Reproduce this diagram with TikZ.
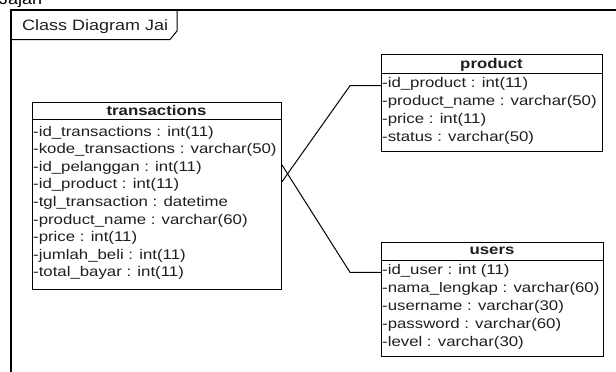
\documentclass[tikz,border=0pt]{standalone}
\usepackage{fontspec}
\setmainfont{Liberation Sans}[FakeStretch=1.2]
\begin{document}
\begin{tikzpicture}[x=1pt, y=-1pt,
  frameline/.style={line width=2pt},
  classbox/.style={draw, line width=1pt, inner sep=0pt, anchor=north west},
  rowtext/.style={anchor=base west, inner sep=0pt, font=\fontsize{14}{16}\selectfont, text=black!88},
  headtext/.style={anchor=base, inner sep=0pt, font=\fontsize{14}{16}\selectfont\bfseries, text=black!88},
  link/.style={line width=1pt}]
\useasboundingbox (0,0) rectangle (616,372);
\clip (0,0) rectangle (616,372);

% caption cut by the top edge
\node[anchor=base west, inner sep=0pt, font=\fontsize{15}{17}\selectfont] (cap) at (-1,5) {Jajan};

% diagram frame with its name tab
\draw[frameline] (11,380) -- (11,10) -- (620,10);
\draw[line width=1pt] (11,39.5) -- (170,39.5) -- (177,31) -- (177,10);
\node[anchor=base west, inner sep=0pt, font=\fontsize{15}{17}\selectfont, text=black!88] (title) at (22,30) {Class Diagram Jai};

% transactions
\node[classbox, minimum width=249, minimum height=187] (trans) at (32,102) {};
\draw[line width=1pt] ([yshift=-17pt]trans.north west) -- ([yshift=-17pt]trans.north east);
\node[headtext] (trans-h) at (156.5,115) {transactions};
\foreach \t [count=\i] in {-id\_transactions : int(11), -kode\_transactions : varchar(50),
  -id\_pelanggan : int(11), -id\_product : int(11), -tgl\_transaction : datetime,
  -product\_name : varchar(60), -price : int(11), -jumlah\_beli : int(11), -total\_bayar : int(11)}
  \node[rowtext] (trans-\i) at (33,{136+17.6*(\i-1)}) {\t};

% product
\node[classbox, minimum width=221, minimum height=97] (prod) at (381,54) {};
\draw[line width=1pt] ([yshift=-19pt]prod.north west) -- ([yshift=-19pt]prod.north east);
\node[headtext] (prod-h) at (491.5,68) {product};
\foreach \t [count=\i] in {-id\_product : int(11), -product\_name : varchar(50),
  -price : int(11), -status : varchar(50)}
  \node[rowtext] (prod-\i) at (382,{87+18*(\i-1)}) {\t};

% users
\node[classbox, minimum width=222, minimum height=114] (users) at (381,242) {};
\draw[line width=1pt] ([yshift=-18pt]users.north west) -- ([yshift=-18pt]users.north east);
\node[headtext] (users-h) at (492,254) {users};
\foreach \t [count=\i] in {-id\_user : int (11), -nama\_lengkap : varchar(60),
  -username : varchar(30), -password : varchar(60), -level : varchar(30)}
  \node[rowtext] (users-\i) at (382,{274.5+18.1*(\i-1)}) {\t};

% associations
\coordinate (pbend) at (350,85.7);
\coordinate (ubend) at (350,272.3);
\coordinate (pend) at (281,181.7);
\coordinate (uend) at (281,165);
\draw[link] (prod.west |- pbend) -- (pbend) -- (trans.east |- pend);
\draw[link] (users.west |- ubend) -- (ubend) -- (trans.east |- uend);
\end{tikzpicture}
\end{document}
